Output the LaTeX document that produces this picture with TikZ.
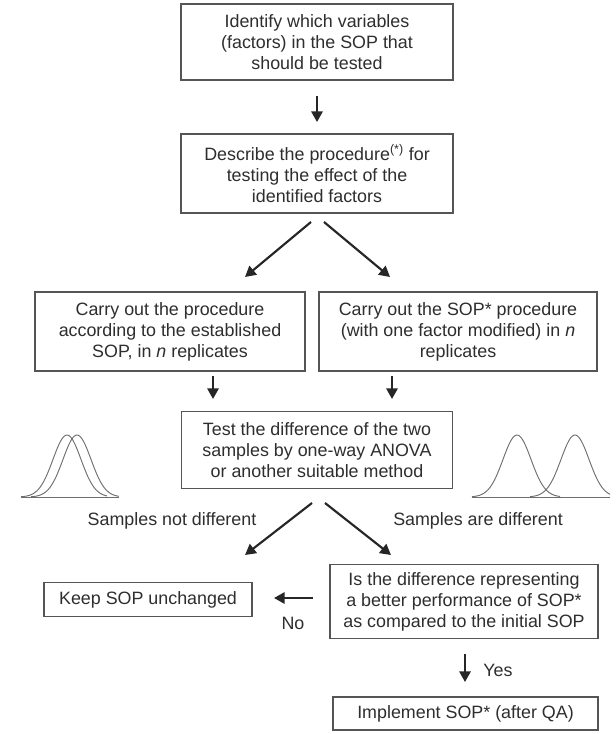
\documentclass[tikz,border=0pt]{standalone}
\usepackage{fontspec}
\setmainfont{Liberation Sans}
\usetikzlibrary{arrows.meta}
\definecolor{txt}{HTML}{2E2E2E}
\definecolor{brd}{HTML}{555555}
\definecolor{crv}{HTML}{6E6E6E}
\begin{document}
\begin{tikzpicture}[x=0.75pt,y=-0.75pt,
  every node/.style={text=txt,font=\fontsize{13.4}{15.8}\selectfont,align=center,inner sep=0pt},
  boxstyle/.style={draw=brd,line width=0.9pt,rectangle},
  arr/.style={draw=black!85,line width=1.6pt,-{Triangle[width=8.5pt,length=8pt]}},
  gauss/.style={draw=crv,line width=0.7pt,smooth,samples=60}]
\fill[white] (0,0) rectangle (615,734);
\useasboundingbox (0,0) rectangle (615,734);
% boxes
\node[boxstyle,minimum width=272*0.75pt,minimum height=76*0.75pt] (b1) at (317,42) {Identify which variables\\(factors) in the SOP that\\should be tested};
\node[boxstyle,minimum width=272*0.75pt,minimum height=79*0.75pt] (b2) at (317,173.5) {Describe the procedure\textsuperscript{(*)} for\\testing the effect of the\\identified factors};
\node[boxstyle,minimum width=270*0.75pt,minimum height=79*0.75pt] (b3) at (170,331.5) {Carry out the procedure\\according to the established\\SOP, in \textit{n} replicates};
\node[boxstyle,minimum width=278*0.75pt,minimum height=79*0.75pt] (b4) at (458,331.5) {Carry out the SOP* procedure\\(with one factor modified) in \textit{n}\\replicates};
\node[boxstyle,minimum width=271*0.75pt,minimum height=77*0.75pt] (b5) at (317,450) {Test the difference of the two\\samples by one-way ANOVA\\or another suitable method};
\node[boxstyle,minimum width=208*0.75pt,minimum height=34*0.75pt] (b6) at (148,599.5) {Keep SOP unchanged};
\node[boxstyle,minimum width=268*0.75pt,minimum height=74*0.75pt] (b7) at (464,601.5) {Is the difference representing\\a better performance of SOP*\\as compared to the initial SOP};
\node[boxstyle,minimum width=265*0.75pt,minimum height=33*0.75pt] (b8) at (465.5,713.5) {Implement SOP* (after QA)};
% labels
\node (l1) at (172,521) {Samples not different};
\node (l2) at (478,521) {Samples are different};
\node (l3) at (293,623) {No};
\node (l4) at (498,670) {Yes};
% connector coordinates
\coordinate (a1s) at (317,96); \coordinate (a1e) at (317,122);
\coordinate (a2s) at (311,222); \coordinate (a2e) at (245,277);
\coordinate (a3s) at (324,222); \coordinate (a3e) at (390,277);
\coordinate (a4s) at (213,376); \coordinate (a4e) at (213,399);
\coordinate (a5s) at (392,376); \coordinate (a5e) at (392,399);
\coordinate (a6s) at (312,503); \coordinate (a6e) at (245,555);
\coordinate (a7s) at (325,503); \coordinate (a7e) at (391,555);
\coordinate (a8s) at (313,598); \coordinate (a8e) at (274,598);
\coordinate (a9s) at (465,654); \coordinate (a9e) at (465,682);
\draw[arr] (a1s) -- (a1e);
\draw[arr] (a2s) -- (a2e);
\draw[arr] (a3s) -- (a3e);
\draw[arr] (a4s) -- (a4e);
\draw[arr] (a5s) -- (a5e);
\draw[arr] (a6s) -- (a6e);
\draw[arr] (a7s) -- (a7e);
\draw[arr] (a8s) -- (a8e);
\draw[arr] (a9s) -- (a9e);
% gaussian curves
\draw[gauss] plot[domain=21:107] (\x,{497-62*exp(-((\x-67)^2)/(2*14^2))});
\draw[gauss] plot[domain=31:119] (\x,{497-62*exp(-((\x-77)^2)/(2*14^2))});
\draw[crv,line width=0.7pt] (21,497) -- (119,497);
\draw[gauss] plot[domain=472:560] (\x,{497-62*exp(-((\x-517)^2)/(2*14^2))});
\draw[gauss] plot[domain=530:610] (\x,{497-62*exp(-((\x-575)^2)/(2*14^2))});
\draw[crv,line width=0.7pt] (472,497) -- (610,497);
\end{tikzpicture}
\end{document}
